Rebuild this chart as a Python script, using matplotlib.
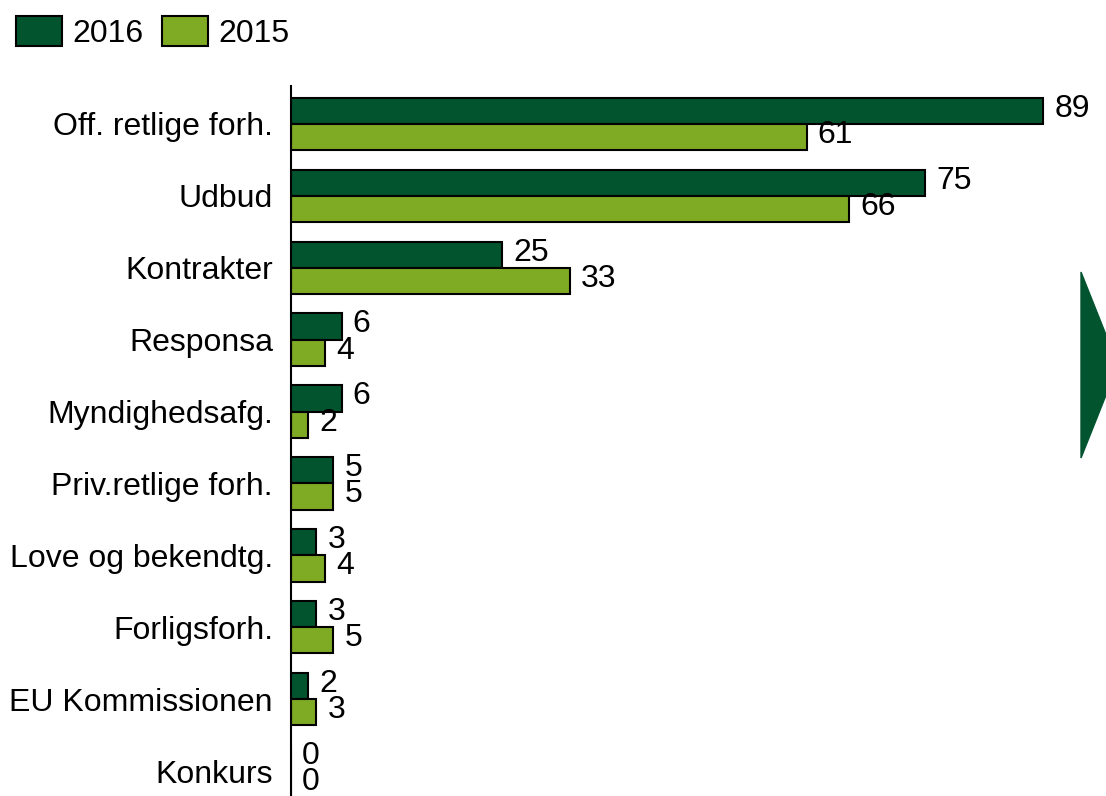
import matplotlib.pyplot as plt
from matplotlib.patches import Polygon
import numpy as np

categories = ['Off. retlige forh.', 'Udbud', 'Kontrakter', 'Responsa', 'Myndighedsafg.',
              'Priv.retlige forh.', 'Love og bekendtg.', 'Forligsforh.', 'EU Kommissionen', 'Konkurs']
v2016 = [89, 75, 25, 6, 6, 5, 3, 3, 2, 0]
v2015 = [61, 66, 33, 4, 2, 5, 4, 5, 3, 0]

dark = '#02542F'
light = '#7FAA24'

plt.rcParams['font.family'] = ['Liberation Sans', 'DejaVu Sans']
fs = 23

fig = plt.figure(figsize=(11.06, 7.96), dpi=100)
ax = fig.add_axes([291 / 1106, -11 / 796, 803 / 1106, 719 / 796])

y = np.arange(len(categories))
h = 0.365
b1 = ax.barh(y - h / 2, v2016, height=h, color=dark, edgecolor='black', linewidth=1.5, label='2016')
b2 = ax.barh(y + h / 2, v2015, height=h, color=light, edgecolor='black', linewidth=1.5, label='2015')

for bars, vals in [(b1, v2016), (b2, v2015)]:
    for bar, v in zip(bars, vals):
        ax.annotate(str(v), (v, bar.get_y() + bar.get_height() / 2), xytext=(8, 1.5),
                    textcoords='offset points', ha='left', va='center', fontsize=fs)

ax.set_ylim(len(categories) - 0.5, -0.5)
ax.set_xlim(0, 95)
ax.set_yticks(y)
ax.set_yticklabels(categories, fontsize=fs)
ax.tick_params(axis='y', length=0, pad=13)
ax.set_xticks([])
for s in ['top', 'right', 'bottom']:
    ax.spines[s].set_visible(False)
ax.spines['left'].set_linewidth(1.5)
ax.spines['left'].set_bounds(len(categories) - 0.5, -0.53)

fig.legend(handles=[b1, b2], loc='upper left', bbox_to_anchor=(0.0, 1.0), ncol=2, frameon=False,
           fontsize=fs, handlelength=1.45, handleheight=1.05, handletextpad=0.3, columnspacing=0.6,
           borderaxespad=0.2, borderpad=0.3)

tri = Polygon([[1081 / 1106, 1 - 272 / 796], [1118 / 1106, 1 - 365 / 796], [1081 / 1106, 1 - 458 / 796]],
              closed=True, transform=fig.transFigure, color=dark, clip_on=False)
fig.patches.append(tri)

fig.savefig('out.png', dpi=100)
